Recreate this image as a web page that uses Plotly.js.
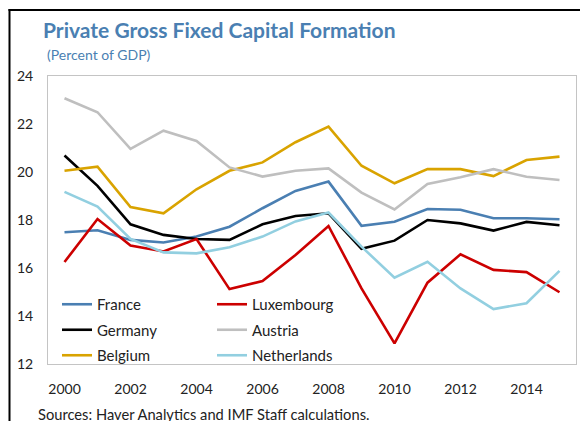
<!DOCTYPE html>
<html>
<head>
<meta charset="utf-8">
<script src="https://cdn.plot.ly/plotly-3.0.1.min.js"></script>
<style>
html,body{margin:0;padding:0;background:#fff;}
#chart{width:580px;height:421px;}
</style>
</head>
<body>
<div id="chart"></div>
<script>
const years = [2000,2001,2002,2003,2004,2005,2006,2007,2008,2009,2010,2011,2012,2013,2014,2015];
const france      = [17.49,17.57,17.17,17.06,17.31,17.72,18.49,19.21,19.60,17.76,17.93,18.46,18.43,18.07,18.07,18.03];
const luxembourg  = [16.25,18.04,16.94,16.69,17.21,15.12,15.46,16.54,17.75,15.15,12.86,15.39,16.57,15.92,15.83,14.99];
const germany     = [20.69,19.42,17.82,17.38,17.21,17.17,17.82,18.17,18.28,16.80,17.14,18.00,17.86,17.56,17.92,17.78];
const austria     = [23.07,22.49,20.96,21.72,21.29,20.19,19.81,20.05,20.15,19.14,18.44,19.50,19.78,20.12,19.80,19.67];
const belgium     = [20.05,20.22,18.54,18.28,19.28,20.05,20.40,21.24,21.89,20.26,19.53,20.12,20.12,19.83,20.50,20.64];
const netherlands = [19.17,18.56,17.21,16.65,16.61,16.86,17.31,17.94,18.31,16.89,15.60,16.26,15.15,14.29,14.53,15.88];
const xTicks = [2000,2002,2004,2006,2008,2010,2012,2014];
const yTicks = [12,14,16,18,20,22,24];

const FONT = 'Lato, "Open Sans", sans-serif';
const W = 580, H = 421;
const L = 48, R = 4, T = 76, B = 57;
const PW = W - L - R, PH = H - T - B;
const px = x => (x - L) / PW;
const py = y => (H - B - y) / PH;

function tr(name, y, color, legend, grp) {
  return {x: years, y: y, name: name, type: 'scatter', mode: 'lines',
          line: {color: color, width: 2.6}, legend: legend, legendgroup: grp};
}
const data = [
  tr('France', france, '#4a7fb2', 'legend', 'a'),
  tr('Germany', germany, '#000000', 'legend', 'b'),
  tr('Belgium', belgium, '#d9a300', 'legend', 'c'),
  tr('Luxembourg', luxembourg, '#cc0000', 'legend2', 'd'),
  tr('Austria', austria, '#bfbfbf', 'legend2', 'e'),
  tr('Netherlands', netherlands, '#92cfe0', 'legend2', 'f')
];

const legendBase = {
  font: {family: FONT, size: 15, color: '#222'},
  bgcolor: 'rgba(0,0,0,0)', borderwidth: 0,
  traceorder: 'grouped', tracegroupgap: 3,
  yanchor: 'top', xanchor: 'left', y: py(288)
};

const layout = {
  width: W, height: H,
  margin: {l: L, r: R, t: T, b: B, pad: 0},
  paper_bgcolor: '#fff', plot_bgcolor: '#fff',
  font: {family: FONT, size: 14, color: '#222'},
  title: {text: '<b>Private Gross Fixed Capital Formation</b>',
          font: {family: FONT, size: 21, color: '#4a7fb2'},
          xref: 'container', x: 43/W, xanchor: 'left',
          yref: 'container', y: 1 - 31/H, yanchor: 'middle'},
  xaxis: {range: [1999.5, 2015.5], tickvals: xTicks, ticktext: xTicks.map(String),
          showgrid: false, zeroline: false, showline: true, mirror: true,
          linecolor: '#c4c4c4', linewidth: 1, ticks: '', ticklabelstandoff: 12,
          tickfont: {family: FONT, size: 14, color: '#222'}},
  yaxis: {range: [12, 24], tickvals: yTicks, ticktext: yTicks.map(String),
          showgrid: false, zeroline: false, showline: true, mirror: true,
          linecolor: '#c4c4c4', linewidth: 1, ticks: '', ticklabelstandoff: 11,
          tickfont: {family: FONT, size: 14, color: '#222'}},
  legend: Object.assign({}, legendBase, {x: px(57)}),
  legend2: Object.assign({}, legendBase, {x: px(212)}),
  annotations: [
    {text: '(Percent of GDP)', xref: 'paper', yref: 'paper', x: px(45), y: py(54),
     xanchor: 'left', yanchor: 'middle', showarrow: false,
     font: {family: FONT, size: 14, color: '#4a7fb2'}},
    {text: 'Sources: Haver Analytics and IMF Staff calculations.', xref: 'paper', yref: 'paper',
     x: px(36), y: py(414), xanchor: 'left', yanchor: 'middle', showarrow: false,
     font: {family: FONT, size: 14.7, color: '#222'}}
  ],
  shapes: [
    {type: 'line', xref: 'paper', yref: 'paper', x0: px(9.5), x1: px(9.5), y0: py(9), y1: py(440),
     line: {color: '#000', width: 2}},
    {type: 'line', xref: 'paper', yref: 'paper', x0: px(8.5), x1: px(600), y0: py(10), y1: py(10),
     line: {color: '#000', width: 2}}
  ],
  showlegend: true
};

Plotly.newPlot('chart', data, layout, {staticPlot: true, displayModeBar: false});
</script>
</body>
</html>
